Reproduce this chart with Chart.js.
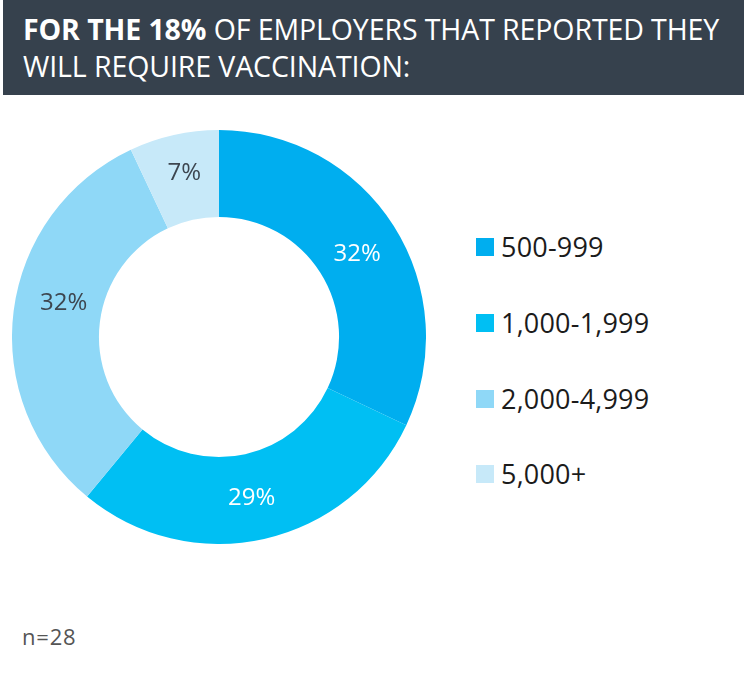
<!DOCTYPE html>
<html>
<head>
<meta charset="utf-8">
<script src="https://cdn.jsdelivr.net/npm/chart.js@4.4.1/dist/chart.umd.min.js"></script>
<style>
  body { margin: 0; width: 744px; height: 693px; background: #fff; position: relative; overflow: hidden; font-family: "Open Sans", sans-serif; }
  #head { position: absolute; left: 3px; top: 0; width: 741px; height: 95px; background: #36414d; }
  #title { position: absolute; left: 20px; top: 11px; color: #fff; font-size: 28.5px; line-height: 37px; letter-spacing: -0.1px; white-space: nowrap; }
  #title b { font-weight: 700; }
  #wrap { position: absolute; left: 12px; top: 130px; width: 414px; height: 414px; }
  #legend { position: absolute; left: 476px; top: 0; }
  .item { position: absolute; left: 0; white-space: nowrap; font-size: 27px; letter-spacing: 0.2px; color: #1b1b1b; }
  .item span.box { position: absolute; left: 0; width: 18px; height: 18px; }
  .item span.txt { position: absolute; left: 25px; line-height: 34px; top: 0; }
  #note { position: absolute; left: 22px; top: 621px; font-size: 22px; letter-spacing: 0.8px; color: #555; }
</style>
</head>
<body>
<div id="head"><div id="title"><b>FOR THE 18%</b> OF EMPLOYERS THAT REPORTED THEY<br>WILL REQUIRE VACCINATION:</div></div>
<div id="wrap"><canvas id="donut"></canvas></div>
<div id="legend"></div>
<div id="note">n=28</div>
<script>
// company size bands and share of employers (%)
const sizes = ['500-999', '1,000-1,999', '2,000-4,999', '5,000+'];
const shares = [32, 29, 32, 7];
const colors = ['#00aeef', '#00bff3', '#8fd8f7', '#c7e9f9'];
const labelColors = ['#ffffff', '#ffffff', '#3d4650', '#3d4650'];

// legend rows, one per size band
const legendY = [247, 323, 399, 474];
const legend = document.getElementById('legend');
sizes.forEach((s, i) => {
    const row = document.createElement('div');
    row.className = 'item';
    row.style.top = (legendY[i] - 17) + 'px';
    row.innerHTML = '<span class="box" style="top:8px;background:' + colors[i] + '"></span><span class="txt">' + s + '</span>';
    legend.appendChild(row);
});

// small nudges so the % text sits like the original layout
const labelNudge = [[0, 5], [-3, 2], [7, -13], [1, -4]];

// draws the % value in the middle of every slice
const sliceLabels = {
    id: 'sliceLabels',
    afterDatasetsDraw(chart) {
        const ctx = chart.ctx;
        const meta = chart.getDatasetMeta(0);
        ctx.save();
        ctx.font = '24px "Open Sans", sans-serif';
        ctx.textAlign = 'center';
        ctx.textBaseline = 'middle';
        meta.data.forEach((arc, i) => {
            const p = arc.tooltipPosition();
            ctx.fillStyle = labelColors[i];
            ctx.fillText(shares[i] + '%', p.x + labelNudge[i][0], p.y + labelNudge[i][1]);
        });
        ctx.restore();
    }
};

new Chart(document.getElementById('donut'), {
    type: 'doughnut',
    data: {
        labels: sizes,
        datasets: [{
            data: shares,
            backgroundColor: colors,
            borderWidth: 0,
            hoverOffset: 0
        }]
    },
    options: {
        responsive: true,
        maintainAspectRatio: false,
        animation: false,
        cutout: '58%',
        layout: { padding: 0 },
        plugins: {
            legend: { display: false },
            tooltip: { enabled: false }
        }
    },
    plugins: [sliceLabels]
});
</script>
</body>
</html>
